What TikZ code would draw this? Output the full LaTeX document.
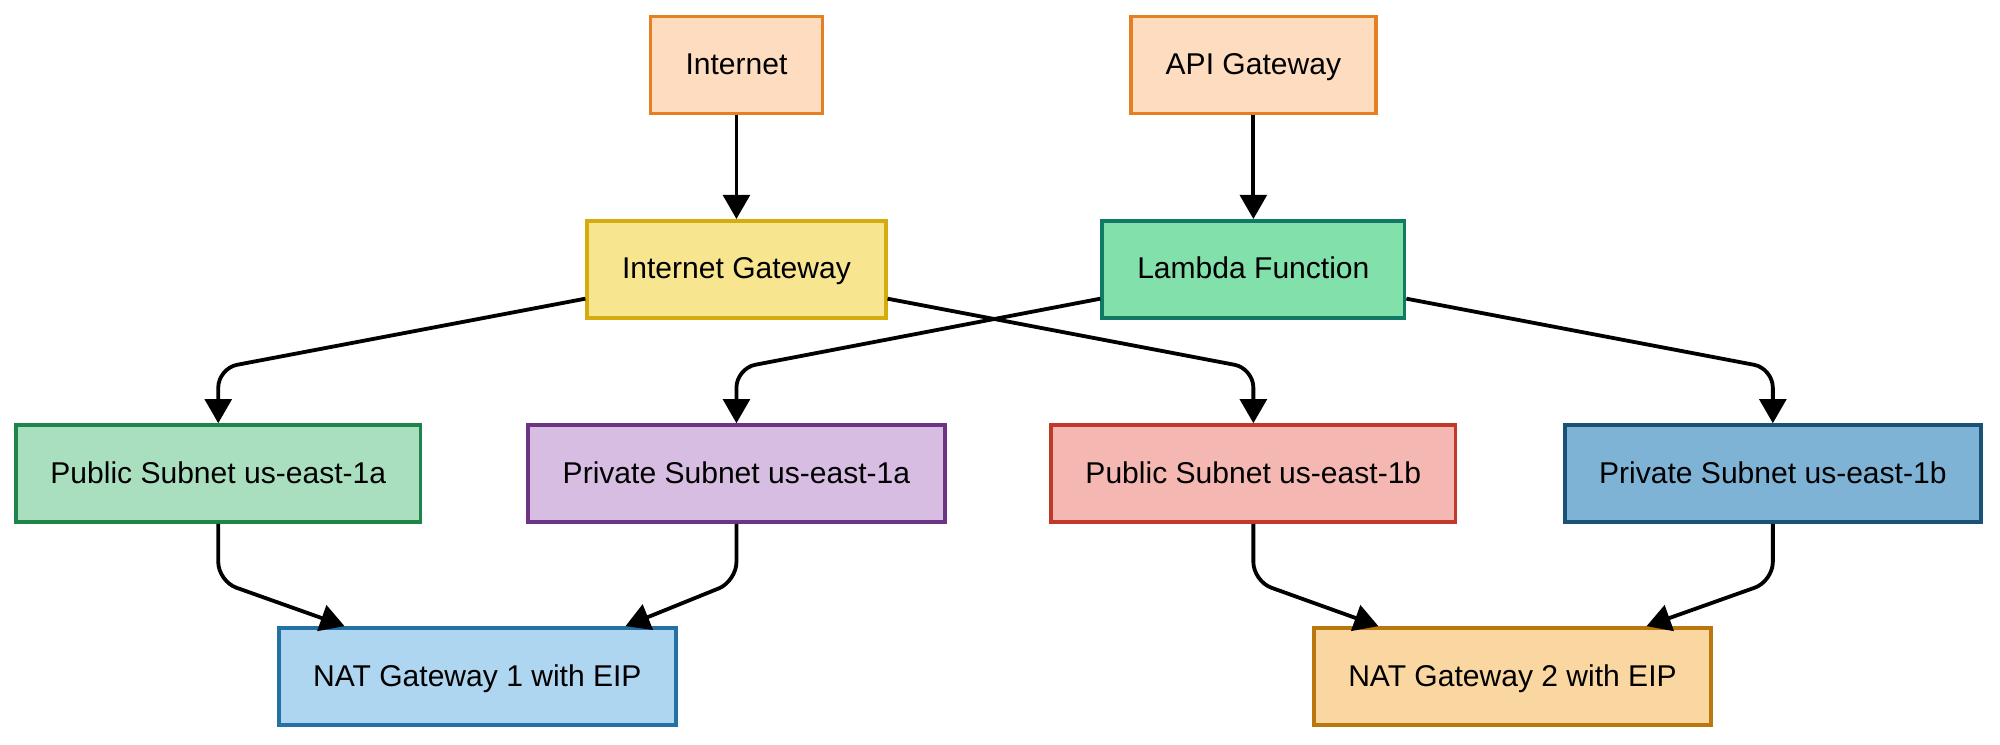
\documentclass[tikz,border=0pt]{standalone}
\usepackage{fontspec}
\setmainfont{Liberation Sans}
\usetikzlibrary{calc,arrows.meta}

\definecolor{inetfill}{HTML}{FDDCBF}\definecolor{inetdraw}{HTML}{E67E22}
\definecolor{igwfill}{HTML}{F7E58F}\definecolor{igwdraw}{HTML}{D4AC0D}
\definecolor{lamfill}{HTML}{82E0AA}\definecolor{lamdraw}{HTML}{117A65}
\definecolor{puafill}{HTML}{A9DFBF}\definecolor{puadraw}{HTML}{1E8449}
\definecolor{prafill}{HTML}{D7BDE2}\definecolor{pradraw}{HTML}{6C3483}
\definecolor{pubfill}{HTML}{F5B7B1}\definecolor{pubdraw}{HTML}{C0392B}
\definecolor{prbfill}{HTML}{7FB3D5}\definecolor{prbdraw}{HTML}{1A5276}
\definecolor{natafill}{HTML}{AED6F1}\definecolor{natadraw}{HTML}{2471A3}
\definecolor{natbfill}{HTML}{FAD7A0}\definecolor{natbdraw}{HTML}{B9770E}

\tikzset{
  box/.style={draw=#1draw, fill=#1fill, line width=1.6pt, minimum height=1.52cm,
    font=\fontsize{13.4}{16}\selectfont, inner sep=0pt,
    text height=1.06em, text depth=0.2em},
  arr/.style={line width=1.7pt, rounded corners=0.3cm,
    -{Triangle[length=0.38cm,width=0.42cm]}}
}

\begin{document}
\begin{tikzpicture}[x=0.02cm,y=-0.02cm]
\useasboundingbox (0,0) rectangle (1567,583);
% top row
\node[box=inet, minimum width=2.7cm] (inet) at (577,51) {Internet};
\node[box=inet, minimum width=3.84cm] (api) at (982,51) {API Gateway};
% gateways
\node[box=igw, minimum width=4.68cm] (igw) at (577,211) {Internet Gateway};
\node[box=lam, minimum width=4.74cm] (lam) at (982,211) {Lambda Function};
% subnets
\node[box=pua, minimum width=6.34cm] (pua) at (171,371) {Public Subnet us-east-1a};
\node[box=pra, minimum width=6.54cm] (pra) at (577,371) {Private Subnet us-east-1a};
\node[box=pub, minimum width=6.34cm] (pub) at (982,371) {Public Subnet us-east-1b};
\node[box=prb, minimum width=6.52cm] (prb) at (1389,371) {Private Subnet us-east-1b};
% nat
\node[box=nata, minimum width=6.22cm] (nata) at (374,530) {NAT Gateway 1 with EIP};
\node[box=natb, minimum width=6.22cm] (natb) at (1185,530) {NAT Gateway 2 with EIP};

\draw[arr] (inet) -- (igw);
\draw[arr] (api) -- (lam);
\draw[arr] ($(igw.west)+(0,23)$) -- ($(pua.north)+(0,-43)$) -- (pua.north);
\draw[arr] ($(igw.east)+(0,23)$) -- ($(pub.north)+(0,-43)$) -- (pub.north);
\draw[arr] ($(lam.west)+(0,23)$) -- ($(pra.north)+(0,-43)$) -- (pra.north);
\draw[arr] ($(lam.east)+(0,23)$) -- ($(prb.north)+(0,-43)$) -- (prb.north);
\draw[arr] (pua.south) -- ($(pua.south)+(0,45)$) -- ($(nata.north)+(-104,0)$);
\draw[arr] (pra.south) -- ($(pra.south)+(0,45)$) -- ($(nata.north)+(116,0)$);
\draw[arr] (pub.south) -- ($(pub.south)+(0,45)$) -- ($(natb.north)+(-105,0)$);
\draw[arr] (prb.south) -- ($(prb.south)+(0,45)$) -- ($(natb.north)+(105,0)$);
\end{tikzpicture}
\end{document}
